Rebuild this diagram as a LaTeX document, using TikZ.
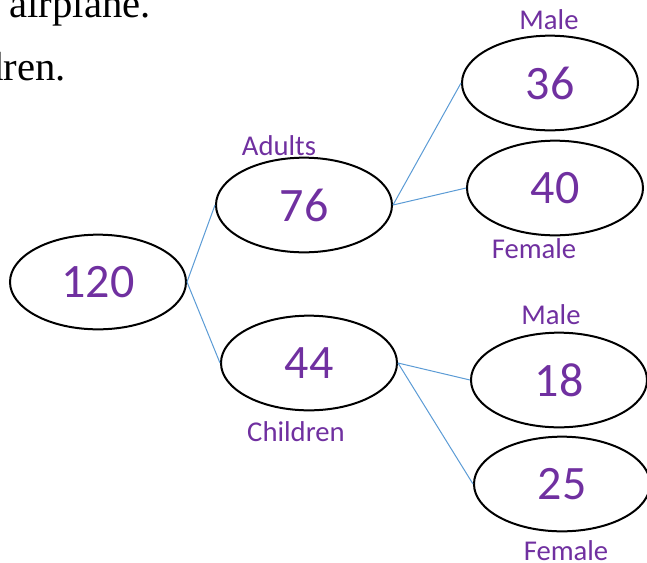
\documentclass[tikz,border=0pt]{standalone}
\usepackage{fontspec}
\setmainfont{Carlito}
\newfontfamily\timesfont{Liberation Serif}
\usetikzlibrary{shapes.geometric}
\definecolor{numpurple}{HTML}{7030A0}
\definecolor{linkblue}{HTML}{5B9BD5}
\begin{document}
\begin{tikzpicture}[x=0.75pt,y=-0.75pt,
  bubble/.style={ellipse,draw=black,line width=1.5pt,minimum width=132pt,minimum height=71pt,inner sep=0pt,
    text=numpurple,font=\fontsize{36}{42}\selectfont},
  tag/.style={text=numpurple,font=\fontsize{21.5}{26}\selectfont,anchor=base,inner sep=0pt},
  prose/.style={font=\timesfont\fontsize{30.5}{36}\selectfont,anchor=base east,inner sep=0pt},
  link/.style={draw=linkblue,line width=0.75pt}]
\useasboundingbox (0,0) rectangle (647,562);
\clip (0,0) rectangle (647,562);
\node[prose] (t1) at (151,17) {airplane.};
\node[prose] (t2) at (66,80) {dren.};
\node[bubble] (n120) at (98,282) {120};
\node[bubble] (n76) at (304,205) {76};
\node[bubble] (n44) at (309,363) {44};
\node[bubble] (n36) at (550,83) {36};
\node[bubble] (n40) at (555,188) {40};
\node[bubble] (n18) at (559,380) {18};
\node[bubble] (n25) at (562,484) {25};
\node[tag] (lmale1) at (549,29) {Male};
\node[tag] (ladults) at (279,155) {Adults};
\node[tag] (lfemale1) at (534,258) {Female};
\node[tag] (lmale2) at (551,324) {Male};
\node[tag] (lchildren) at (296,441) {Children};
\node[tag] (lfemale2) at (566,560) {Female};
\draw[link] (n120.east) -- (n76.west);
\draw[link] (n120.east) -- (n44.west);
\draw[link] (n76.east) -- (n36.west);
\draw[link] (n76.east) -- (n40.west);
\draw[link] (n44.east) -- (n18.west);
\draw[link] (n44.east) -- (n25.west);
\end{tikzpicture}
\end{document}
